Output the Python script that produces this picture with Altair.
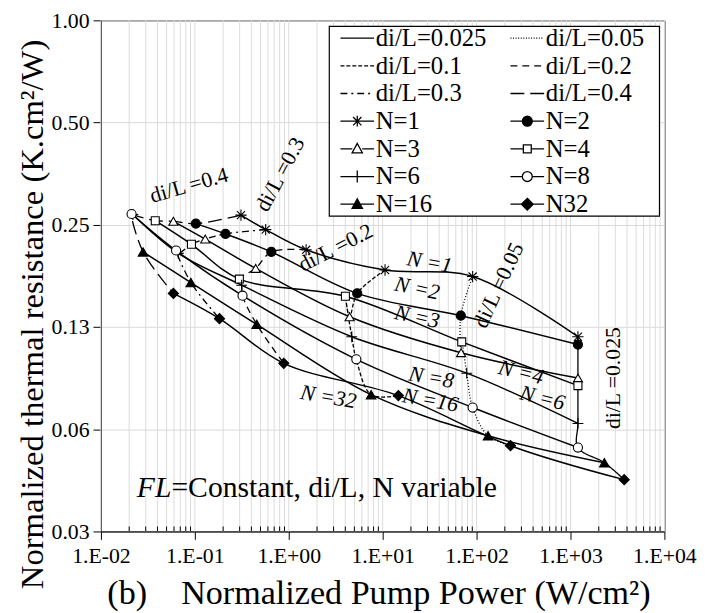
import altair as alt
import pandas as pd

# ---------------- data ----------------
N_SERIES = ["N=1", "N=2", "N=3", "N=4", "N=6", "N=8", "N=16", "N32"]
DIL_SERIES = ["di/L=0.4", "di/L=0.3", "di/L=0.2", "di/L=0.1", "di/L=0.05", "di/L=0.025"]

# pump power (W/cm2) and thermal resistance for each N, in di/L order above
P_N1 = [0.310, 0.568, 1.53, 10.6, 90.8, 1200]
R_N1 = [0.267, 0.242, 0.211, 0.184, 0.176, 0.117]
P_N2 = [0.1025, 0.212, 0.652, 5.36, 67.9, 1200]
R_N2 = [0.252, 0.235, 0.208, 0.157, 0.135, 0.111]
P_N3 = [0.0591, 0.129, 0.444, 4.45, 68.4, 1200]
R_N3 = [0.256, 0.227, 0.186, 0.134, 0.105, 0.0884]
P_N4 = [0.0379, 0.092, 0.298, 4.01, 69.5, 1200]
R_N4 = [0.257, 0.219, 0.173, 0.154, 0.113, 0.084]
P_N6 = [0.0219, 0.0667, 0.315, 4.69, 78.5, 1200]
R_N6 = [0.268, 0.206, 0.166, 0.117, 0.0914, 0.065]
P_N8 = [0.0212, 0.0631, 0.322, 5.24, 90.8, 1200]
R_N8 = [0.269, 0.210, 0.1546, 0.1004, 0.0724, 0.0552]
P_N16 = [0.0281, 0.0908, 0.456, 7.53, 132.5, 2296]
R_N16 = [0.208, 0.169, 0.1273, 0.0790, 0.0598, 0.0498]
P_N32 = [0.0591, 0.183, 0.885, 14.7, 229.6, 3732]
R_N32 = [0.157, 0.1323, 0.0977, 0.0785, 0.0559, 0.0444]

X_TICKS = [0.01, 0.1, 1, 10, 100, 1000, 10000]
X_TICK_LABELS = ["1.E-02", "1.E-01", "1.E+00", "1.E+01", "1.E+02", "1.E+03", "1.E+04"]
Y_TICKS = [0.03125, 0.0625, 0.125, 0.25, 0.5, 1.0]
Y_TICK_LABELS = ["0.03", "0.06", "0.13", "0.25", "0.50", "1.00"]

# legend entries, listed column by column (left column, then right column)
LEGEND_KEYS = ["di/L=0.025", "di/L=0.1", "di/L=0.3", "N=1", "N=3", "N=6", "N=16",
               "di/L=0.05", "di/L=0.2", "di/L=0.4", "N=2", "N=4", "N=8", "N32"]

DIL_LABELS = ["di/L =0.4", "di/L =0.3", "di/L =0.2", "di/L =0.05", "di/L =0.025"]
DIL_LABEL_P = [0.0867, 0.809, 3.15, 171.8, 2857]
DIL_LABEL_R = [0.327, 0.352, 0.214, 0.166, 0.0884]
N_LABELS = ["N =1", "N =2", "N =3", "N =4", "N =6", "N =8", "N =16", "N =32"]
N_LABEL_P = [31.5, 23.3, 23.3, 297.6, 502, 32.9, 32.2, 2.64]
N_LABEL_R = [0.194, 0.1625, 0.134, 0.092, 0.0773, 0.0889, 0.0761, 0.0779]
NOTE_P = [0.0241]
NOTE_R = [0.0418]

# ---------------- styles ----------------
FONT = "Liberation Serif, Times New Roman, DejaVu Serif, serif"
DIL_ANGLES = [344, 298, 333, 295, 270]
N_ANGLES = [10, 12, 12, 14, 14, 10, 10, 10]
STAR = "M0,-1L0,1M-0.72,-0.72L0.72,0.72M-0.72,0.72L0.72,-0.72M-1,0L1,0"
PLUS = "M-1,0L1,0M0,-1L0,1"
PT_SHAPES = [STAR, "circle", "triangle-up", "square", PLUS, "circle", "triangle-up", "diamond"]
PT_FILLS = ["transparent", "black", "white", "white", "transparent", "white", "black", "black"]
PT_SIZES = [130, 85, 85, 65, 120, 85, 95, 105]
DASHES = [[14, 6], [7, 4, 2, 4], [7, 5], [4, 2], [1, 2], [1, 0]]
NBSP = "\u00a0"
# legend frame, in pixels of the plot area
BOX_X, BOX_X2, BOX_Y, BOX_Y2 = 231, 565, 6, 198

P_ALL = [P_N1, P_N2, P_N3, P_N4, P_N6, P_N8, P_N16, P_N32]
R_ALL = [R_N1, R_N2, R_N3, R_N4, R_N6, R_N8, R_N16, R_N32]
rows = []
for i, n in enumerate(N_SERIES):
    for j, d in enumerate(DIL_SERIES):
        rows.append({"N": n, "dil": d, "P": P_ALL[i][j], "R": R_ALL[i][j], "ni": i, "di": j,
                     "shape": PT_SHAPES[i], "fill": PT_FILLS[i], "sz": PT_SIZES[i]})
df = pd.DataFrame(rows)

# legend symbols: a 24px symbol box, 1 unit = 12 px
U = 12.0
L0, L1, MC = -4.7, 29.3, 12.3


def f(v):
    return f"{v / U:.3f}"


def seg(a, b):
    return f"M{f(a)},0L{f(b)},0"


def dashed(pattern):
    out, x, i = [], L0, 0
    while x < L1 - 0.2:
        d = pattern[i % len(pattern)]
        if i % 2 == 0:
            out.append(seg(x, min(x + d, L1)))
        x += d
        i += 1
    return "".join(out)


def circ(r):
    return (f"M{f(MC - r)},0A{f(r)},{f(r)} 0 1,0 {f(MC + r)},0"
            f"A{f(r)},{f(r)} 0 1,0 {f(MC - r)},0Z")


def split_line(r):
    return seg(L0, MC - r) + seg(MC + r, L1)


def tri(r):
    return f"M{f(MC)},{f(-r)}L{f(MC + 0.95 * r)},{f(0.75 * r)}L{f(MC - 0.95 * r)},{f(0.75 * r)}Z"


def sq(h):
    return f"M{f(MC - h)},{f(-h)}L{f(MC + h)},{f(-h)}L{f(MC + h)},{f(h)}L{f(MC - h)},{f(h)}Z"


def dia(r):
    return f"M{f(MC)},{f(-r)}L{f(MC + r)},0L{f(MC)},{f(r)}L{f(MC - r)},0Z"


star_leg = (seg(L0, L1) + f"M{f(MC)},{f(-5.5)}L{f(MC)},{f(5.5)}"
            + f"M{f(MC - 4.2)},{f(-4.2)}L{f(MC + 4.2)},{f(4.2)}"
            + f"M{f(MC - 4.2)},{f(4.2)}L{f(MC + 4.2)},{f(-4.2)}")
SYM = {
    "di/L=0.025": (seg(L0, L1), "transparent"),
    "di/L=0.05": (dashed([1, 1.6]), "transparent"),
    "di/L=0.1": (dashed([4, 2]), "transparent"),
    "di/L=0.2": (dashed([7, 5]), "transparent"),
    "di/L=0.3": (dashed([7, 4, 2, 4]), "transparent"),
    "di/L=0.4": (dashed([14, 6]), "transparent"),
    "N=1": (star_leg, "transparent"),
    "N=2": (seg(L0, L1) + circ(5), "black"),
    "N=3": (split_line(5) + tri(5.5), "white"),
    "N=4": (split_line(4) + sq(4), "white"),
    "N=6": (seg(L0, L1) + f"M{f(MC)},{f(-6)}L{f(MC)},{f(6)}", "transparent"),
    "N=8": (split_line(5) + circ(5), "white"),
    "N=16": (seg(L0, L1) + tri(5.5), "black"),
    "N32": (seg(L0, L1) + dia(6), "black"),
}
LEG_PATHS = [SYM[k][0] for k in LEGEND_KEYS]
LEG_FILLS = [SYM[k][1] for k in LEGEND_KEYS]

# ---------------- scales / axes ----------------
XS = alt.Scale(type="log", domain=[0.01, 10000], nice=False)
YS = alt.Scale(type="log", base=2, domain=[0.03125, 1], nice=False)
x_lbl = "[" + ",".join(f"'{s}'" for s in X_TICK_LABELS) + "][round(log(datum.value)/LN10)+2]"
y_lbl = "[" + ",".join(f"'{s}'" for s in Y_TICK_LABELS) + "][round(log(datum.value)/LN2)+5]"
XAX = alt.Axis(values=X_TICKS, labelExpr=x_lbl, grid=False, tickSize=8, labelPadding=6,
               labelFlush=False, labelOverlap=False,
               title="(b)" + NBSP * 4 + "Normalized Pump Power (W/cm²)", titleFontSize=34.5,
               titleX=6, titleY=73, titleAlign="left", titleBaseline="alphabetic")
YAX = alt.Axis(values=Y_TICKS, labelExpr=y_lbl, grid=True, gridColor="#d9d9d9", tickSize=8,
               labelPadding=4, labelOverlap=False, labelFlush=False,
               title="Normalized thermal resistance (K.cm²/W)", titleFontSize=33,
               titleX=-69, titleY=297, titleAngle=270, titleAlign="center", titleBaseline="middle")


def X(field):
    return alt.X(field, type="quantitative", scale=XS, axis=XAX)


def Y(field):
    return alt.Y(field, type="quantitative", scale=YS, axis=YAX)


GRID_X = [m * 10.0 ** k for k in range(-2, 4) for m in range(1, 10)] + [10000.0]
MINOR_X = [m * 10.0 ** k for k in range(-2, 4) for m in range(2, 10)]

grid = alt.Chart(pd.DataFrame({"P": GRID_X})).mark_rule(color="#dcdcdc", strokeWidth=1).encode(x=X("P"))
minor = alt.Chart(pd.DataFrame({"P": MINOR_X})).mark_rule(color="black", strokeWidth=1).encode(
    x=X("P"), y=alt.value(517), y2=alt.value(512))

dil_lines = alt.Chart(df).mark_line(interpolate="catmull-rom", color="black", strokeWidth=1.3).encode(
    x=X("P"), y=Y("R"), detail="dil:N", order="ni:Q",
    strokeDash=alt.StrokeDash("dil:N", scale=alt.Scale(domain=DIL_SERIES, range=DASHES), legend=None))
n_lines = alt.Chart(df).mark_line(interpolate="catmull-rom", color="black", strokeWidth=1.5).encode(
    x=X("P"), y=Y("R"), detail="N:N", order="di:Q")
points = alt.Chart(df).mark_point(filled=True, stroke="black", strokeWidth=1.1, opacity=1).encode(
    x=X("P"), y=Y("R"),
    shape=alt.Shape("shape:N", scale=None),
    fill=alt.Fill("fill:N", scale=None),
    size=alt.Size("sz:Q", scale=None))

dil_txt_df = pd.DataFrame({"P": DIL_LABEL_P, "R": DIL_LABEL_R, "t": DIL_LABELS, "a": DIL_ANGLES})
dil_txt = alt.Chart(dil_txt_df).mark_text(font=FONT, fontSize=22, color="black",
                                          align="center", baseline="middle").encode(
    x=X("P"), y=Y("R"), text="t:N", angle=alt.Angle("a:Q", scale=None))
n_txt_df = pd.DataFrame({"P": N_LABEL_P, "R": N_LABEL_R, "t": N_LABELS, "a": N_ANGLES})
n_txt = alt.Chart(n_txt_df).mark_text(font=FONT, fontSize=22, fontStyle="italic", color="black",
                                      align="center", baseline="middle").encode(
    x=X("P"), y=Y("R"), text="t:N", angle=alt.Angle("a:Q", scale=None))
note_df = pd.DataFrame({"P": NOTE_P, "R": NOTE_R})
note1 = alt.Chart(note_df).mark_text(text="FL", font=FONT, fontSize=30, fontStyle="italic",
                                     color="black", align="left", baseline="middle").encode(
    x=X("P"), y=Y("R"))
note2 = alt.Chart(note_df).mark_text(text="=Constant, di/L, N variable", font=FONT, fontSize=30,
                                     color="black", align="left", baseline="middle", dx=35).encode(
    x=X("P"), y=Y("R"))

# legend frame drawn as a plain rectangle behind the (frameless) legend
frame = alt.Chart(pd.DataFrame({"k": [0]})).mark_rect(fill="white", stroke="black", strokeWidth=1.2).encode(
    x=alt.value(BOX_X), x2=alt.value(BOX_X2), y=alt.value(BOX_Y), y2=alt.value(BOX_Y2))

LEG = alt.Legend(title=None, orient="none", legendX=231, legendY=2, columns=2, columnPadding=15,
                 rowPadding=2, padding=3, strokeColor="transparent", fillColor="transparent",
                 labelFont=FONT, labelFontSize=25, labelColor="black", labelOffset=18,
                 labelLimit=300, symbolSize=576, symbolStrokeWidth=1.3, symbolStrokeColor="black",
                 symbolOpacity=1)
leg_df = pd.DataFrame({"key": LEGEND_KEYS, "P": [1.0] * len(LEGEND_KEYS), "R": [0.1] * len(LEGEND_KEYS)})
legend_layer = alt.Chart(leg_df).transform_filter("datum.key == 'none'").mark_point(
    filled=True, stroke="black", opacity=1).encode(
    x=X("P"), y=Y("R"),
    shape=alt.Shape("key:N", scale=alt.Scale(domain=LEGEND_KEYS, range=LEG_PATHS), legend=LEG),
    fill=alt.Fill("key:N", scale=alt.Scale(domain=LEGEND_KEYS, range=LEG_FILLS), legend=LEG))

chart = alt.layer(grid, minor, dil_lines, n_lines, points, dil_txt, n_txt, note1, note2,
                  frame, legend_layer).properties(
    width=570, height=517,
    padding={"left": 94, "top": 9, "right": 36, "bottom": 79},
    autosize=alt.AutoSizeParams(type="none"),
    background="white",
).configure_view(stroke="black", strokeWidth=1).configure_axis(
    labelFont=FONT, titleFont=FONT, labelFontSize=22, titleFontWeight="normal",
    labelColor="black", titleColor="black", domainColor="black", tickColor="black",
    domainWidth=1, tickWidth=1)

chart.save("out.html", embed_options={"renderer": "svg", "actions": False})
